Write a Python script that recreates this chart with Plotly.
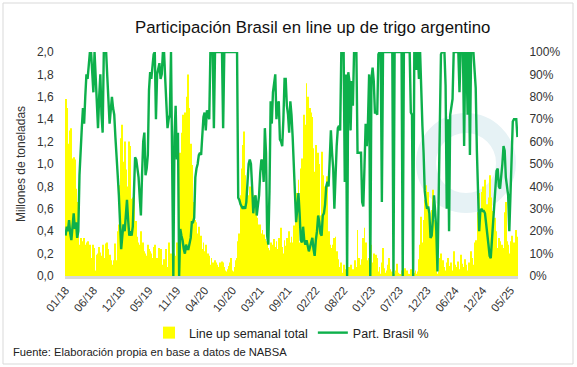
import plotly.graph_objects as go

# ---- data (weekly, Jan-2018 .. mid-2025) ----
lineup_mt = [
    1.58, 1.50, 1.08, 1.18, 1.30, 1.32, 1.05, 1.06, 1.04, 0.78,
    0.66, 0.40, 0.28, 0.34, 0.16, 0.31, 0.34, 0.28, 0.30, 0.31,
    0.24, 0.28, 0.16, 0.10, 0.28, 0.25, 0.05, 0.19, 0.20, 0.26,
    0.21, 0.18, 0.28, 0.16, 0.10, 0.29, 0.30, 0.24, 0.19, 0.14,
    0.10, 0.07, 0.14, 0.29, 0.14, 0.40, 0.46, 0.81, 1.23, 1.35,
    1.02, 1.20, 0.95, 0.80, 0.60, 1.20, 1.16, 0.69, 0.70, 0.75,
    0.28, 0.49, 0.35, 0.30, 0.28, 0.40, 0.16, 0.30, 0.22, 0.20,
    0.18, 0.28, 0.24, 0.22, 0.20, 0.16, 0.26, 0.28, 0.05, 0.16,
    0.11, 0.25, 0.24, 0.10, 0.06, 0.15, 0.10, 0.24, 0.08, 0.30,
    0.12, 0.20, 0.15, 0.05, 0.20, 0.18, 0.30, 0.15, 0.90, 1.10,
    1.28, 1.44, 1.40, 1.46, 1.20, 1.60, 1.80, 1.50, 1.18, 0.99,
    0.62, 0.66, 0.50, 0.48, 0.38, 0.44, 0.30, 0.36, 0.24, 0.30,
    0.22, 0.28, 0.14, 0.20, 0.18, 0.10, 0.16, 0.12, 0.06, 0.14,
    0.12, 0.10, 0.08, 0.12, 0.09, 0.13, 0.12, 0.08, 0.05, 0.04,
    0.06, 0.09, 0.12, 0.16, 0.05, 0.04, 0.08, 0.14, 0.16, 0.31,
    0.38, 0.72, 0.96, 1.17, 1.29, 0.90, 0.75, 0.81, 0.72, 0.80,
    0.57, 0.80, 0.60, 0.72, 0.62, 0.52, 0.46, 0.40, 0.46, 0.38,
    0.41, 0.37, 0.33, 0.25, 0.31, 0.25, 0.23, 0.30, 0.22, 0.28,
    0.33, 0.26, 0.31, 0.24, 0.34, 0.28, 0.43, 0.26, 0.20, 0.32,
    0.27, 0.34, 0.28, 0.40, 0.30, 0.35, 0.30, 0.45, 0.28, 0.62,
    0.74, 0.86, 0.30, 0.96, 1.05, 0.50, 1.44, 1.35, 1.72, 1.60,
    1.05, 1.50, 1.46, 1.42, 1.14, 0.93, 1.17, 0.82, 1.10, 1.00,
    0.54, 1.11, 0.90, 0.66, 0.80, 0.54, 0.89, 0.40, 0.28, 0.15,
    0.25, 0.28, 0.34, 0.35, 0.22, 0.15, 0.08, 0.05, 0.12, 0.03,
    0.10, 0.06, 0.02, 0.13, 0.04, 0.08, 0.10, 0.03, 0.06, 0.04,
    0.14, 0.08, 0.41, 0.16, 0.08, 0.10, 0.15, 0.34, 0.43, 0.30,
    0.14, 0.10, 0.16, 0.08, 0.28, 0.12, 0.20, 0.15, 0.19, 0.16,
    0.04, 0.08, 0.02, 0.12, 0.25, 0.07, 0.03, 0.05, 0.10, 0.16,
    0.06, 0.03, 0.04, 0.08, 0.02, 0.05, 0.11, 0.03, 0.02, 0.01,
    0.05, 0.02, 0.04, 0.07, 0.03, 0.05, 0.02, 0.01, 0.06, 0.04,
    0.02, 0.03, 0.05, 0.02, 0.04, 0.15, 0.28, 0.53, 0.30, 0.50,
    0.68, 0.81, 0.54, 0.75, 0.57, 0.45, 0.59, 0.77, 0.50, 0.40,
    0.30, 0.02, 0.04, 0.16, 0.20, 0.10, 0.14, 0.08, 0.05, 0.12,
    0.16, 0.06, 0.09, 0.12, 0.05, 0.22, 0.10, 0.04, 0.08, 0.13,
    0.06, 0.19, 0.11, 0.03, 0.08, 0.15, 0.10, 0.05, 0.12, 0.07,
    0.22, 0.16, 0.10, 0.30, 0.32, 0.28, 0.57, 0.74, 0.55, 0.75,
    0.80, 0.74, 0.86, 0.52, 0.64, 0.70, 0.90, 0.70, 0.58, 0.57,
    0.46, 0.52, 0.40, 0.25, 0.34, 0.31, 0.22, 0.28, 0.25, 0.57,
    0.66, 0.31, 0.28, 0.20, 0.31, 0.36, 0.25, 0.30, 0.22, 0.41,
    0.35,
]

part_brasil_pct = [
    18, 22, 20, 25, 19, 16, 22, 28, 21, 24,
    17, 20, 45, 60, 66, 75, 68, 80, 90, 88,
    95, 100, 100, 92, 82, 100, 88, 78, 66, 80,
    90, 72, 64, 100, 100, 100, 89, 80, 68, 74,
    80, 75, 72, 62, 55, 45, 36, 22, 12, 18,
    23, 20, 26, 34, 25, 18, 20, 18, 22, 35,
    53, 52, 47, 44, 35, 27, 45, 60, 64, 45,
    48, 54, 83, 91, 88, 95, 99, 100, 70, 90,
    92, 95, 88, 90, 100, 100, 88, 75, 66, 70,
    72, 100, 60, 0, 62, 76, 52, 64, 0, 21,
    18, 16, 12, 10, 14, 12, 12, 15, 17, 24,
    24, 26, 44, 48, 50, 54, 55, 54, 61, 71,
    73, 65, 74, 72, 70, 100, 100, 100, 66, 100,
    100, 100, 100, 100, 100, 100, 66, 100, 100, 100,
    100, 100, 100, 100, 100, 100, 100, 100, 100, 35,
    34, 32, 31, 30, 31, 30, 33, 40, 50, 52,
    50, 40, 28, 34, 36, 27, 31, 36, 46, 52,
    51, 42, 66, 55, 18, 14, 38, 78, 68, 82,
    86, 90, 70, 76, 78, 61, 60, 58, 70, 88,
    88, 76, 72, 64, 78, 72, 62, 50, 34, 24,
    30, 37, 28, 16, 15, 22, 16, 14, 16, 13,
    11, 13, 15, 17, 12, 9, 16, 20, 27, 24,
    19, 18, 27, 28, 32, 40, 42, 40, 52, 65,
    55, 48, 30, 50, 58, 66, 67, 65, 100, 100,
    100, 42, 90, 0, 91, 87, 65, 87, 76, 100,
    100, 100, 55, 55, 55, 55, 33, 31, 49, 68,
    58, 69, 90, 0, 88, 93, 87, 73, 73, 72,
    99, 100, 100, 33, 100, 100, 100, 100, 100, 100,
    100, 100, 100, 0, 100, 100, 100, 100, 100, 100,
    100, 0, 100, 100, 100, 100, 100, 100, 73, 72,
    0, 100, 100, 92, 100, 88, 100, 77, 67, 55,
    38, 33, 30, 31, 28, 17, 18, 25, 36, 29,
    20, 2, 31, 75, 99, 100, 100, 100, 85, 30,
    70, 20, 72, 76, 79, 100, 100, 100, 100, 100,
    82, 100, 100, 100, 58, 100, 100, 72, 100, 54,
    100, 100, 100, 92, 84, 56, 35, 20, 29, 30,
    29, 29, 28, 24, 20, 14, 9, 8, 16, 24,
    27, 38, 47, 48, 40, 39, 44, 50, 58, 56,
    44, 40, 36, 20, 40, 54, 69, 70, 70, 70,
    62,
]

tick_labels = ["01/18", "06/18", "12/18", "05/19", "11/19", "04/20", "10/20",
               "03/21", "09/21", "02/22", "08/22", "01/23", "07/23", "12/23",
               "06/24", "12/24", "05/25"]
tick_every = 24  # weeks between labels

weeks = list(range(len(lineup_mt)))
tick_pos = [i * tick_every for i in range(len(tick_labels))]

FONT = "Liberation Sans, Arial, sans-serif"
GREEN = "#0db04b"
YELLOW = "#ffff00"

fig = go.Figure()
fig.add_trace(go.Bar(
    x=weeks, y=lineup_mt, name="Line up semanal total",
    marker=dict(color=YELLOW, line=dict(width=0)), yaxis="y",
))
fig.add_trace(go.Scatter(
    x=weeks, y=part_brasil_pct, name="Part. Brasil %", mode="lines",
    line=dict(color=GREEN, width=2.4), yaxis="y2",
))

W, H = 577, 367
L, R, T, B = 65, 59, 52, 91
pw, ph = W - L - R, H - T - B

def px(x):
    return (x - L) / pw

def py(y):
    return (H - B - y) / ph

shapes = [
    dict(type="rect", xref="paper", yref="paper",
         x0=px(3), x1=px(573), y0=py(364), y1=py(3),
         line=dict(color="#d9d9d9", width=1), fillcolor="rgba(0,0,0,0)", layer="below"),
    dict(type="circle", xref="paper", yref="paper",
         x0=px(426), x1=px(506), y0=py(203), y1=py(123),
         line=dict(color="#e6f2f5", width=20), fillcolor="rgba(0,0,0,0)", layer="below"),
]

fig.update_layout(
    width=W, height=H,
    margin=dict(l=L, r=R, t=T, b=B),
    paper_bgcolor="white", plot_bgcolor="rgba(0,0,0,0)",
    separators=",.",
    font=dict(family=FONT, size=12, color="#333333"),
    bargap=0.25,
    showlegend=True,
    legend=dict(orientation="h", x=0.5, xanchor="center", y=py(333), yanchor="middle",
                font=dict(size=12.5, color="#222222"), itemwidth=30,
                bgcolor="rgba(0,0,0,0)"),
    xaxis=dict(range=[-0.5, len(weeks) - 0.5], tickmode="array", tickvals=tick_pos,
               ticktext=tick_labels, tickangle=-50, showgrid=False, zeroline=False,
               showline=True, linecolor="#d9d9d9", linewidth=3, ticks="",
               tickfont=dict(size=11.5, color="#333333")),
    yaxis=dict(range=[0, 2.0], dtick=0.2, tickformat=".1f", showgrid=False, zeroline=False,
               ticks="outside", ticklen=8, tickcolor="rgba(0,0,0,0)",
               tickfont=dict(size=12, color="#333333")),
    yaxis2=dict(range=[0, 100], dtick=10, ticksuffix="%", overlaying="y", side="right",
                showgrid=False, zeroline=False, ticks="outside", ticklen=8,
                tickcolor="rgba(0,0,0,0)", tickfont=dict(size=12, color="#333333")),
    shapes=shapes,
    annotations=[
        dict(text="Participación Brasil en line up de trigo argentino", xref="paper", yref="paper",
             x=px(312), y=py(27), xanchor="center", yanchor="middle", showarrow=False,
             font=dict(family=FONT, size=16.8, color="#111111")),
        dict(text="Millones de toneladas", xref="paper", yref="paper",
             x=px(21), y=py(164), xanchor="center", yanchor="middle", textangle=-90,
             showarrow=False, font=dict(family=FONT, size=12, color="#333333")),
        dict(text="Fuente: Elaboración propia en base a datos de NABSA", xref="paper", yref="paper",
             x=px(11), y=py(352), xanchor="left", yanchor="middle", showarrow=False,
             font=dict(family=FONT, size=11.2, color="#222222")),
    ],
)

fig.write_html("out.html", config={"displayModeBar": False},
               post_script="document.body.style.margin='0';")
